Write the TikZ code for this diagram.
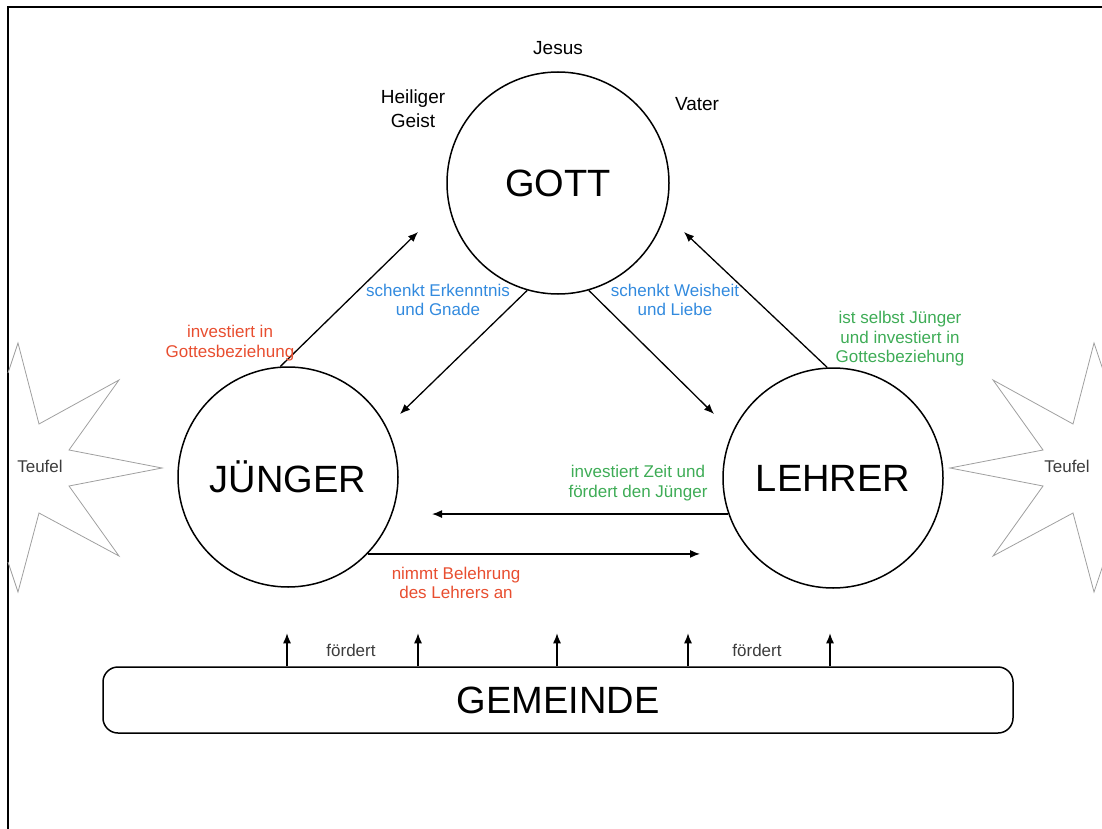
\documentclass[tikz,border=0pt]{standalone}
\usepackage{fontspec}
\setmainfont{Liberation Sans}
\usetikzlibrary{arrows.meta}

\definecolor{rotText}{RGB}{232,78,48}
\definecolor{blauText}{RGB}{50,138,222}
\definecolor{gruenText}{RGB}{62,172,86}
\definecolor{grauText}{RGB}{60,60,60}

\tikzset{
	kreis/.style={circle, draw, line width=1.5pt, inner sep=0pt, font=\fontsize{38}{40}\selectfont},
	pfeil/.style={-{Latex[length=10pt,width=8pt]}, line width=1.3pt},
	notiz/.style={align=center, font=\fontsize{17}{19.5}\selectfont},
	gottname/.style={align=center, font=\fontsize{19}{24}\selectfont},
	stern/.style={draw=gray!75, line width=0.8pt, line join=miter},
}

\begin{document}
\begin{tikzpicture}[x=1pt, y=-1pt]
	\useasboundingbox (0,0) rectangle (1102,829);

	% Define radii
	\def\rGott{111}
	\def\rMensch{110}

	% Frame
	\draw[line width=2pt] (8,829) -- (8,7) -- (1102,7);

	% Draw the three circles
	\node[kreis, minimum size=2*\rGott pt] (gott) at (558,183) {GOTT};
	\node[kreis, minimum size=2*\rMensch pt] (jun) at (288,477) {J\"UNGER};
	\node[kreis, minimum size=2*\rMensch pt] (leh) at (833,478) {LEHRER};

	% Names round GOTT
	\node[gottname] (jesus) at (558,48) {Jesus};
	\node[gottname] (geist) at (413,109) {Heiliger\\Geist};
	\node[gottname] (vater) at (697,104) {Vater};

	% Draw the Gemeinde box
	\node[draw, line width=1.5pt, rounded corners=15pt, minimum width=910pt, minimum height=66pt,
		font=\fontsize{38}{40}\selectfont] (gemeinde) at (558,700) {GEMEINDE};

	% free ends of the arrows
	\coordinate (zuGottA) at (418,232);
	\coordinate (zuJun) at (400,414);
	\coordinate (zuLeh) at (714,414);
	\coordinate (zuGottB) at (684,232);
	\coordinate (zuJunH) at (432,514);
	\coordinate (zuLehH) at (700,553);

	% Arrows between the circles
	\draw[pfeil] (jun.94) -- (zuGottA);
	\draw[pfeil] (gott.-106) -- (zuJun);
	\draw[pfeil] (gott.-74) -- (zuLeh);
	\draw[pfeil] (leh.93) -- (zuGottB);
	\draw[pfeil] (leh.-161) -- (leh.-161 -| zuJunH);
	\draw[pfeil] (jun.-44) -- (jun.-44 -| zuLehH);

	% Arrows from the Gemeinde
	\foreach \x in {287,418,557,688,830}
		\draw[pfeil] (gemeinde.north -| \x,0) -- ++(0,-33);

	% Labels at the arrows
	\node[notiz, text=rotText] (lInvest) at (230,343) {investiert in\\Gottesbeziehung};
	\node[notiz, text=blauText] (lErk) at (438,300) {schenkt Erkenntnis\\und Gnade};
	\node[notiz, text=blauText] (lWeis) at (675,300) {schenkt Weisheit\\und Liebe};
	\node[notiz, text=gruenText] (lSelbst) at (900,339) {ist selbst J\"unger\\und investiert in\\Gottesbeziehung};
	\node[notiz, text=gruenText] (lZeit) at (638,483) {investiert Zeit und\\f\"ordert den J\"unger};
	\node[notiz, text=rotText] (lBel) at (456,583) {nimmt Belehrung\\des Lehrers an};
	\node[notiz, text=grauText] (lFoerdA) at (351,650) {f\"ordert};
	\node[notiz, text=grauText] (lFoerdB) at (757,650) {f\"ordert};

	% Teufel stars
	\draw[stern] (8,373) -- (18,343) -- (39,424) -- (119,380) -- (69,450) -- (162,468)
		-- (69,486) -- (119,556) -- (39,513) -- (18,592) -- (8,562);
	\draw[stern] (1104,373) -- (1094,343) -- (1073,424) -- (993,380) -- (1043,450) -- (950,468)
		-- (1043,486) -- (993,556) -- (1073,513) -- (1094,592) -- (1104,562);
	\node[notiz, text=grauText] (teufelL) at (40,466) {Teufel};
	\node[notiz, text=grauText] (teufelR) at (1067,466) {Teufel};
\end{tikzpicture}
\end{document}
